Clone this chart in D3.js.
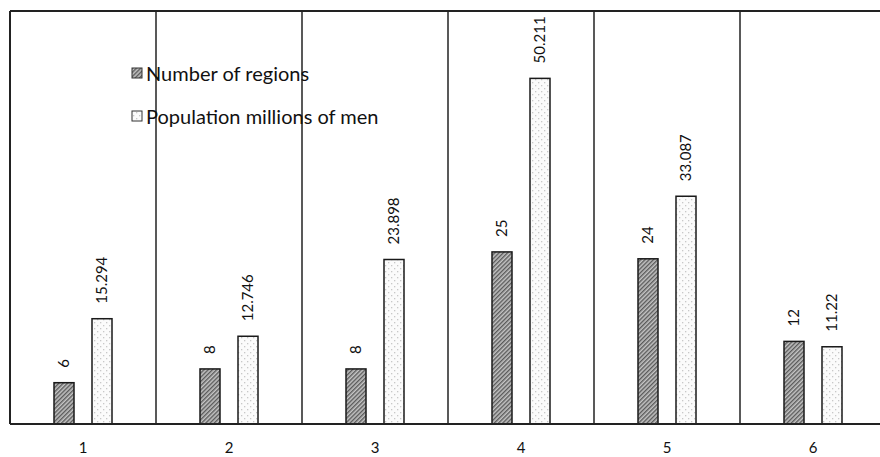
<!DOCTYPE html>
<html><head><meta charset="utf-8">
<script src="https://cdn.jsdelivr.net/npm/d3@7"></script>
<style>body{margin:0;background:#fff;}svg{display:block;font-family:Lato,"Open Sans",sans-serif;}</style>
</head><body>
<svg id="c" width="880" height="457"></svg>
<script>
const categories = ["1","2","3","4","5","6"];
const regions = [6, 8, 8, 25, 24, 12];
const population = [15.294, 12.746, 23.898, 50.211, 33.087, 11.22];
const seriesNames = ["Number of regions", "Population millions of men"];

(function(){
const svg = d3.select("#c");
const defs = svg.append("defs");
const hatch = defs.append("pattern").attr("id","hatch").attr("patternUnits","userSpaceOnUse")
  .attr("width",3).attr("height",3).attr("patternTransform","rotate(45)");
hatch.append("rect").attr("width",3).attr("height",3).attr("fill","#c4c4c4");
hatch.append("rect").attr("width",1.4).attr("height",3).attr("fill","#5a5a5a");
const dots = defs.append("pattern").attr("id","dots").attr("patternUnits","userSpaceOnUse")
  .attr("width",6).attr("height",6);
dots.append("rect").attr("width",6).attr("height",6).attr("fill","#fbfbfb");
dots.append("rect").attr("x",1).attr("y",1).attr("width",1.3).attr("height",1.3).attr("fill","#c8c8c8");
dots.append("rect").attr("x",4).attr("y",4).attr("width",1.3).attr("height",1.3).attr("fill","#c8c8c8");

const mLeft = 10, mTop = 11, mBottom = 424, step = 146;
const x = d3.scaleBand().domain(categories).range([mLeft, mLeft + step*categories.length]).paddingInner(0).paddingOuter(0);
const y = d3.scaleLinear().domain([0, 60]).range([mBottom, mTop]);
const inner = d3.scaleBand().domain([0,1]).range([0, step]).paddingInner(18/38).paddingOuter(44/38);

// frame
svg.append("line").attr("x1",mLeft).attr("x2",880).attr("y1",mTop).attr("y2",mTop).attr("stroke","#222").attr("stroke-width",2);
svg.append("line").attr("x1",mLeft).attr("x2",mLeft).attr("y1",mTop).attr("y2",mBottom).attr("stroke","#222").attr("stroke-width",2);
categories.slice(1).forEach(c=>{
  svg.append("line").attr("x1",x(c)).attr("x2",x(c)).attr("y1",mTop).attr("y2",mBottom).attr("stroke","#222").attr("stroke-width",1.5);
});

const series = [{vals:regions, fill:"url(#hatch)"},{vals:population, fill:"url(#dots)"}];
series.forEach((s,si)=>{
  categories.forEach((c,i)=>{
    const v = s.vals[i];
    const bx = x(c) + inner(si);
    svg.append("rect").attr("x",bx).attr("y",y(v)).attr("width",inner.bandwidth()).attr("height",mBottom-y(v))
      .attr("fill",s.fill).attr("stroke","#1a1a1a").attr("stroke-width",1.5);
    const cx = bx + inner.bandwidth()/2 + 5;
    const ty = y(v) - 15;
    svg.append("text").attr("transform",`translate(${cx},${ty}) rotate(-90)`)
      .attr("text-anchor","start").attr("font-size",15).attr("fill","#111").text(String(v));
  });
});

// x axis
svg.append("line").attr("x1",mLeft).attr("x2",880).attr("y1",mBottom).attr("y2",mBottom).attr("stroke","#222").attr("stroke-width",2);
const ax = d3.axisBottom(x).tickSize(0).tickPadding(18);
const g = svg.append("g").attr("transform",`translate(0,${mBottom})`).call(ax);
g.select(".domain").remove();
g.selectAll("text").attr("font-size",15).attr("fill","#111").attr("font-family","Lato,sans-serif");

// legend
const lg = svg.append("g");
seriesNames.forEach((n,i)=>{
  const ly = 73 + i*43;
  lg.append("rect").attr("x",132).attr("y",ly-5).attr("width",10).attr("height",10)
    .attr("fill",i==0?"url(#hatch)":"url(#dots)").attr("stroke","#333").attr("stroke-width",1);
  lg.append("text").attr("x",146).attr("y",ly).attr("dominant-baseline","central")
    .attr("font-size",20).attr("fill","#111").text(n);
});
})();
</script>
</body></html>
